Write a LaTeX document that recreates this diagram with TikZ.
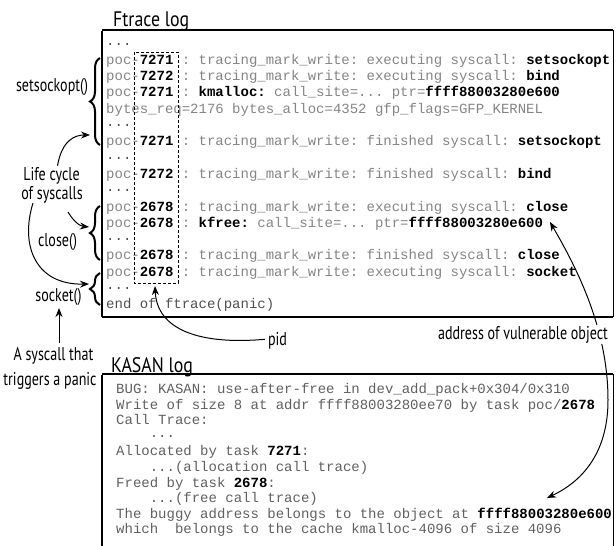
\documentclass[tikz,border=0pt]{standalone}
\usepackage{fontspec}
\setmonofont{Liberation Mono}
\newfontfamily\annotfont{PT Sans}[FakeStretch=0.76]
\newfontfamily\titlefont{PT Sans}[FakeStretch=0.85]
\usetikzlibrary{arrows.meta,decorations.pathreplacing}
\definecolor{ftgray}{HTML}{858585}
\definecolor{kagray}{HTML}{606060}
\definecolor{dotgray}{HTML}{505050}
\newcommand\bk[1]{\textcolor{black}{\bfseries #1}}
\newcommand\rdots{\raisebox{3pt}{...}}
\begin{document}
\frenchspacing
\begin{tikzpicture}[x=1pt,y=-1pt,
  ft/.style={anchor=base west, inner sep=0pt, text=ftgray, font=\ttfamily\fontsize{14}{16}\selectfont},
  ftd/.style={ft, text=dotgray},
  ka/.style={anchor=base west, inner sep=0pt, text=kagray, font=\ttfamily\fontsize{14}{16}\selectfont},
  ann/.style={anchor=base, inner sep=0pt, font=\annotfont\fontsize{18.5}{20}\selectfont},
  ttl/.style={anchor=base west, inner sep=0pt, font=\titlefont\fontsize{21}{24}\selectfont},
  arr/.style={-{Stealth[length=9pt,width=7pt]}, line width=1pt},
  brc/.style={decorate, decoration={brace, amplitude=10pt}, line width=2pt},
  thickline/.style={line width=2.5pt},
  midline/.style={line width=2pt},
  thinline/.style={line width=1pt}]
\useasboundingbox (0,0) rectangle (616,546);

% titles
\node[ttl] (ftitle) at (113,26) {Ftrace log};
\node[ttl] (ktitle) at (111,372) {KASAN log};

% ftrace box
\coordinate (fa) at (102,30);
\coordinate (fb) at (613,30);
\coordinate (fc) at (613,317);
\coordinate (fd) at (102,317);
\draw[midline] (fa) -- (fb);
\draw[thinline] (fb) -- (fc);
\draw[midline] (fc) -- (fd);
\draw[thickline] (fd) -- ([yshift=-1pt]fa);

% kasan box
\coordinate (ka) at (102,374);
\coordinate (kb) at (613,374);
\coordinate (kc) at (613,546);
\coordinate (kd) at (102,546);
\draw[midline] (ka) -- (kb);
\draw[thinline] (kb) -- (kc);
\draw[thickline] (kd) -- ([yshift=-1pt]ka);

% ftrace lines
\node[ftd] (f0) at (106,48.0) {\rdots};
\node[ft] (f1) at (106,64.3) {poc-\bk{7271} : tracing\_mark\_write: executing syscall: \bk{setsockopt}};
\node[ft] (f2) at (106,80.6) {poc-\bk{7272} : tracing\_mark\_write: executing syscall: \bk{bind}};
\node[ft] (f3) at (106,96.9) {poc-\bk{7271} : \bk{kmalloc:} call\_site=... ptr=\bk{ffff88003280e600}};
\node[ft] (f4) at (106,113.2) {bytes\_req=2176 bytes\_alloc=4352 gfp\_flags=GFP\_KERNEL};
\node[ftd] (f5) at (106,129.5) {\rdots};
\node[ft] (f6) at (106,145.8) {poc-\bk{7271} : tracing\_mark\_write: finished syscall: \bk{setsockopt}};
\node[ftd] (f7) at (106,162.1) {\rdots};
\node[ft] (f8) at (106,178.4) {poc-\bk{7272} : tracing\_mark\_write: finished syscall: \bk{bind}};
\node[ftd] (f9) at (106,194.7) {\rdots};
\node[ft] (f10) at (106,211.0) {poc-\bk{2678} : tracing\_mark\_write: executing syscall: \bk{close}};
\node[ft] (f11) at (106,227.3) {poc-\bk{2678} : \bk{kfree:} call\_site=... ptr=\bk{ffff88003280e600}};
\node[ftd] (f12) at (106,243.6) {\rdots};
\node[ft] (f13) at (106,259.9) {poc-\bk{2678} : tracing\_mark\_write: finished syscall: \bk{close}};
\node[ft] (f14) at (106,276.2) {poc-\bk{2678} : tracing\_mark\_write: executing syscall: \bk{socket}};
\node[ftd] (f15) at (106,292.5) {\rdots};
\node[ftd] (f16) at (106,308.8) {end of ftrace(panic)};

% pid dashed box
\draw[dashed, line width=0.8pt, dash pattern=on 3pt off 2pt] (134,52) rectangle (178,283);
\coordinate (pidbot) at (155,286);

% kasan lines
\node[ka] (k0) at (116,393.5) {BUG: KASAN: use-after-free in dev\_add\_pack+0x304/0x310};
\node[ka] (k1) at (116,409.1) {Write of size 8 at addr ffff88003280ee70 by task poc/\bk{2678}};
\node[ka] (k2) at (116,424.7) {Call Trace:};
\node[ka] (k3) at (149.6,440.3) {\rdots};
\node[ka] (k4) at (116,455.9) {Allocated by task \bk{7271}:};
\node[ka] (k5) at (149.6,471.5) {...(allocation call trace)};
\node[ka] (k6) at (116,487.1) {Freed by task \bk{2678}:};
\node[ka] (k7) at (149.6,502.7) {...(free call trace)};
\node[ka] (k8) at (116,518.3) {The buggy address belongs to the object at \bk{ffff88003280e600}};
\node[ka] (k9) at (116,533.9) {which\ \ belongs to the cache kmalloc-4096 of size 4096};

% braces
\draw[brc] (100,145) -- (100,58);
\draw[brc] (100,260) -- (100,206);
\draw[brc] (100,305) -- (100,273);

% annotations
\node[ann] (lset) at (52,91.5) {setsockopt()};
\node[ann] (life1) at (51.5,180) {Life cycle};
\node[ann] (life2) at (52,199) {of syscalls};
\node[ann] (lclose) at (57.5,246) {close()};
\node[ann] (lsock) at (58.5,301) {socket()};
\node[ann] (trig1) at (53.5,360) {A syscall that};
\node[ann] (trig2) at (50,385) {triggers a panic};
\node[ann] (lpid) at (277.5,345) {pid};

\coordinate (setarr) at (90,135);
\coordinate (closearr) at (89,227);
\coordinate (sockarr) at (89,284);
\coordinate (sockbot) at (59,308);

\draw[arr] (life1.north) ++(6,-1) .. controls (62,140) and (75,135) .. (setarr);
\draw[arr] (68,212) .. controls (74,222) and (80,226) .. (closearr);
\draw[arr] (33,203) .. controls (20,245) and (35,285) .. (sockarr);
\draw[arr] (trig1.north) ++(5.5,-4) -- (sockbot);
\draw[arr] (lpid.west) ++(-3,-1) .. controls (200,345) and (157,330) .. (pidbot);

% address arrow
\coordinate (ptrtop) at (550,222);
\coordinate (ptrbot) at (547,498);
\draw[{Stealth[length=9pt,width=7pt]}-{Stealth[length=9pt,width=7pt]}, line width=1pt]
  (ptrtop) .. controls (578,270) and (608,330) .. (608,400) .. controls (608,450) and (585,480) .. (ptrbot);
\node[ann, fill=white, inner sep=1pt] (laddr) at (523,339) {address of vulnerable object};
\end{tikzpicture}
\end{document}
